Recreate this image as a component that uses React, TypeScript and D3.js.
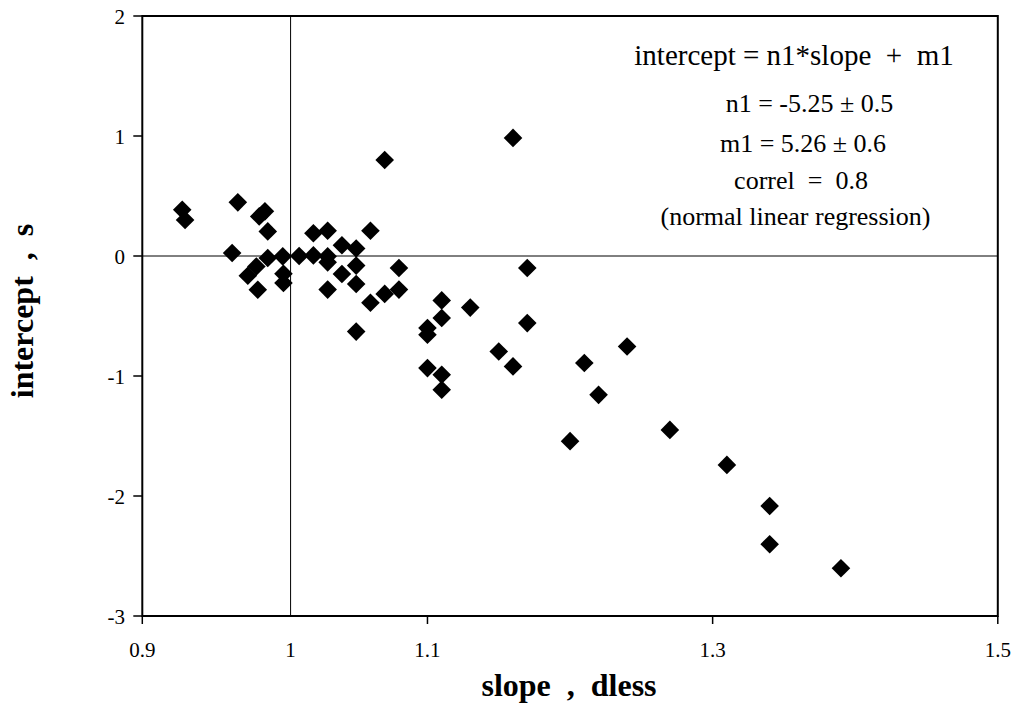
import React from "react";
import * as d3 from "d3";

const slopeValues = [
  0.928, 0.93, 0.967, 0.986, 0.982, 0.988, 0.963, 0.988, 0.9985, 0.98, 0.974,
  0.981, 0.999, 0.999, 1.01, 1.02, 1.03, 1.02, 1.03, 1.03, 1.04, 1.05, 1.06,
  1.05, 1.04, 1.03, 1.05, 1.08, 1.07, 1.08, 1.06, 1.05, 1.07, 1.16, 1.17, 1.11,
  1.11, 1.13, 1.1, 1.1, 1.17, 1.15, 1.16, 1.1, 1.11, 1.11, 1.2, 1.21, 1.22,
  1.24, 1.27, 1.31, 1.34, 1.34, 1.39,
];
const interceptValues = [
  0.386, 0.3, 0.447, 0.372, 0.33, 0.205, 0.025, -0.017, -0.003, -0.087, -0.164,
  -0.281, -0.148, -0.225, 0.0, 0.19, 0.21, 0.005, -0.003, -0.053, 0.09, 0.063,
  0.21, -0.08, -0.15, -0.28, -0.233, -0.1, -0.316, -0.28, -0.39, -0.63, 0.8,
  0.984, -0.1, -0.37, -0.517, -0.43, -0.6, -0.656, -0.559, -0.796, -0.92,
  -0.934, -0.99, -1.115, -1.543, -0.892, -1.157, -0.754, -1.449, -1.741,
  -2.083, -2.402, -2.602,
];
const xTicks = [0.9, 1.1, 1.3, 1.5];
const yTicks = [2, 1, 0, -1, -2, -3];
const refLineX = 1.004;
const refLineLabel = "1";
const annotationLines = [
  "intercept = n1*slope  +  m1",
  "n1 = -5.25 \u00b1 0.5",
  "m1 = 5.26 \u00b1 0.6",
  "correl  =  0.8",
  "(normal linear regression)",
];
const xTitle = "slope  ,  dless";
const yTitle = "intercept  ,  s";

const FONT = "'Liberation Serif', 'Times New Roman', serif";

export default function App() {
  const W = 1015;
  const H = 706;
  const left = 142.3;
  const right = 997.8;
  const top = 16;
  const bottom = 616;
  const x = d3.scaleLinear().domain([0.9, 1.5]).range([left, right]);
  const y = d3.scaleLinear().domain([-3, 2]).range([bottom, top]);
  const r = 9.3;
  const diamond = (cx: number, cy: number) =>
    `M${cx},${cy - r}L${cx + r},${cy}L${cx},${cy + r}L${cx - r},${cy}Z`;

  const annX = [794, 809.5, 803, 801, 795.5];
  const annY = [65, 112, 152, 189.3, 225];
  const annSize = [29, 26, 26, 26, 26];

  return (
    <svg
      width={W}
      height={H}
      style={{ position: "absolute", left: 0, top: 0, background: "#fff" }}
      fontFamily={FONT}
    >
      <rect x={0} y={0} width={W} height={H} fill="#fff" />
      {/* reference lines */}
      <line x1={left} x2={right} y1={y(0)} y2={y(0)} stroke="#000" strokeWidth={1} />
      <line x1={x(refLineX)} x2={x(refLineX)} y1={top} y2={bottom} stroke="#000" strokeWidth={1} />
      {/* frame */}
      <rect x={left} y={top} width={right - left} height={bottom - top} fill="none" stroke="#000" strokeWidth={2} />
      {/* y ticks */}
      {yTicks.map((t) => (
        <g key={"y" + t}>
          <line x1={left - 9} x2={left} y1={y(t)} y2={y(t)} stroke="#000" strokeWidth={1.5} />
          <text x={125} y={y(t) + 7.5} textAnchor="end" fontSize={21}>
            {t}
          </text>
        </g>
      ))}
      {/* x ticks */}
      {xTicks.map((t) => (
        <g key={"x" + t}>
          <line x1={x(t)} x2={x(t)} y1={bottom} y2={bottom + 8} stroke="#000" strokeWidth={1.5} />
          <text x={x(t)} y={657} textAnchor="middle" fontSize={21}>
            {t}
          </text>
        </g>
      ))}
      <text x={x(refLineX)} y={657} textAnchor="middle" fontSize={21}>
        {refLineLabel}
      </text>
      {/* points */}
      {slopeValues.map((s, i) => (
        <path key={i} d={diamond(x(s), y(interceptValues[i]))} fill="#000" />
      ))}
      {/* annotation */}
      {annotationLines.map((l, i) => (
        <text
          key={"a" + i}
          x={annX[i]}
          y={annY[i]}
          textAnchor="middle"
          fontSize={annSize[i]}
          style={{ whiteSpace: "pre" }}
        >
          {l}
        </text>
      ))}
      {/* axis titles */}
      <text x={569} y={695.5} textAnchor="middle" fontSize={32} fontWeight="bold" style={{ whiteSpace: "pre" }}>
        {xTitle}
      </text>
      <text
        transform={`translate(33,311) rotate(-90)`}
        textAnchor="middle"
        fontSize={32}
        fontWeight="bold"
        style={{ whiteSpace: "pre" }}
      >
        {yTitle}
      </text>
    </svg>
  );
}
